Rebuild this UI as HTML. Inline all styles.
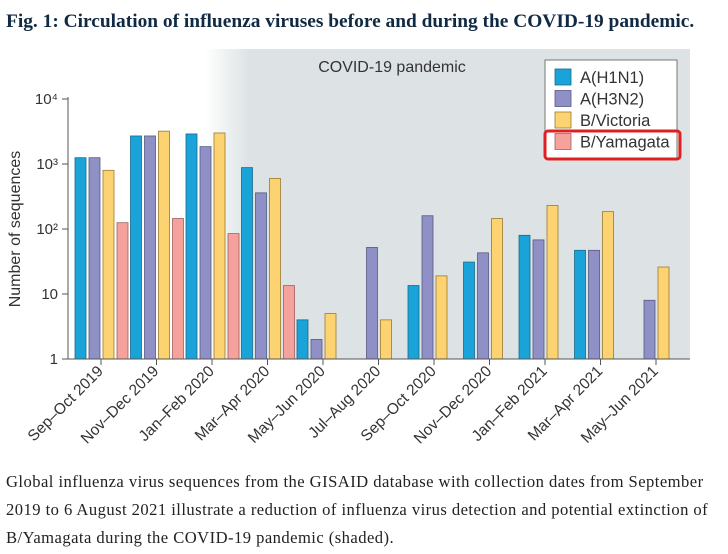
<!DOCTYPE html>
<html><head><meta charset="utf-8"><style>
body{margin:0;width:728px;height:554px;background:#fff;overflow:hidden;font-family:"Liberation Sans",sans-serif}
#title{position:absolute;left:6px;top:11px;font:bold 19.4px "Liberation Serif",serif;color:#102a44;white-space:nowrap}
#cap{position:absolute;left:6px;top:468px;width:720px;font:16.6px/28px "Liberation Serif",serif;color:#222;white-space:nowrap;letter-spacing:0.45px}
svg{position:absolute;left:0;top:0}
</style></head><body>
<div id="title">Fig. 1: Circulation of influenza viruses before and during the COVID-19 pandemic.</div>
<svg id="chart" width="728" height="470">
<defs><linearGradient id="g" x1="0" x2="1"><stop offset="0" stop-color="#dde3e5" stop-opacity="0"/><stop offset="0.09" stop-color="#dde3e5"/></linearGradient></defs>
<rect x="205" y="49" width="485" height="310" fill="url(#g)"/>
<text x="392" y="72" font-size="16" fill="#333" text-anchor="middle">COVID-19 pandemic</text>
<g id="bars"></g>
<line x1="68" y1="97" x2="68" y2="359" stroke="#555"/>
<line x1="68" y1="359" x2="690" y2="359" stroke="#555"/>
<g id="ticks"></g>
<text transform="translate(20,229) rotate(-90)" font-size="16" fill="#333" text-anchor="middle">Number of sequences</text>
<g>
<rect x="545" y="60" width="132" height="98" fill="#fff" stroke="#777"/>
<g id="leg"></g>
<rect x="545" y="131" width="135" height="28" rx="3" fill="none" stroke="#e02020" stroke-width="3"/>
</g>
</svg>
<div id="cap">Global influenza virus sequences from the GISAID database with collection dates from September<br>2019 to 6 August 2021 illustrate a reduction of influenza virus detection and potential extinction of<br>B/Yamagata during the COVID-19 pandemic (shaded).</div>
<script>
const categories=["Sep–Oct 2019","Nov–Dec 2019","Jan–Feb 2020","Mar–Apr 2020","May–Jun 2020","Jul–Aug 2020","Sep–Oct 2020","Nov–Dec 2020","Jan–Feb 2021","Mar–Apr 2021","May–Jun 2021"];
const h1n1=[1250,2700,2900,880,4,null,13.5,31,80,47,null];
const h3n2=[1250,2700,1850,360,2,52,160,43,68,47,8];
const bvic=[800,3200,3000,600,5,4,19,145,230,185,26];
const byam=[125,145,85,13.5,null,null,null,null,null,null,null];
const seriesNames=["A(H1N1)","A(H3N2)","B/Victoria","B/Yamagata"];
const yTicks=[1,10,100,1000,10000];
const yTickLabels=["1","10","10²","10³","10⁴"];
const colors=["#19a3d9","#8f90c6","#fdd372","#f5a29d"];
const strokes=["#1a6a8a","#555a80","#9a7a30","#a06060"];
const NS="http://www.w3.org/2000/svg";
const y=v=>359-65*Math.log10(v);
const x=i=>101+55.5*i;
function mk(t,a,p){const e=document.createElementNS(NS,t);for(const k in a)e.setAttribute(k,a[k]);(p||document.getElementById('chart')).appendChild(e);return e;}
const bars=document.getElementById('bars'),ticks=document.getElementById('ticks'),leg=document.getElementById('leg');
[h1n1,h3n2,bvic,byam].forEach((s,si)=>{s.forEach((v,i)=>{if(v==null)return;
const r=mk('rect',{x:x(i)-26+14*si,y:y(v),width:11,height:359-y(v),fill:colors[si],stroke:strokes[si],'stroke-width':0.8},bars);

});});
categories.forEach((c,i)=>{
const l=mk('line',{x1:x(i),y1:359,x2:x(i),y2:365,stroke:'#555'},ticks);


const t=mk('text',{transform:`translate(${x(i)+3},${372}) rotate(-45)`,'text-anchor':'end','font-size':15.5,fill:'#333'},ticks);
t.textContent=c;

});
yTicks.forEach((v,i)=>{
const l=mk('line',{x1:62,y1:y(v),x2:68,y2:y(v),stroke:'#555'},ticks);


const t=mk('text',{x:58,y:y(v)+5,'text-anchor':'end','font-size':15,fill:'#333'},ticks);
t.textContent=yTickLabels[i];

});
seriesNames.forEach((n,i)=>{
const r=mk('rect',{x:555,y:69+21.5*i,width:16,height:16,fill:colors[i],stroke:strokes[i],'stroke-width':0.8},leg);


const t=mk('text',{x:580,y:83+21.5*i,'font-size':16.5,fill:'#333'},leg);
t.textContent=n;

});
</script>
</body></html>
